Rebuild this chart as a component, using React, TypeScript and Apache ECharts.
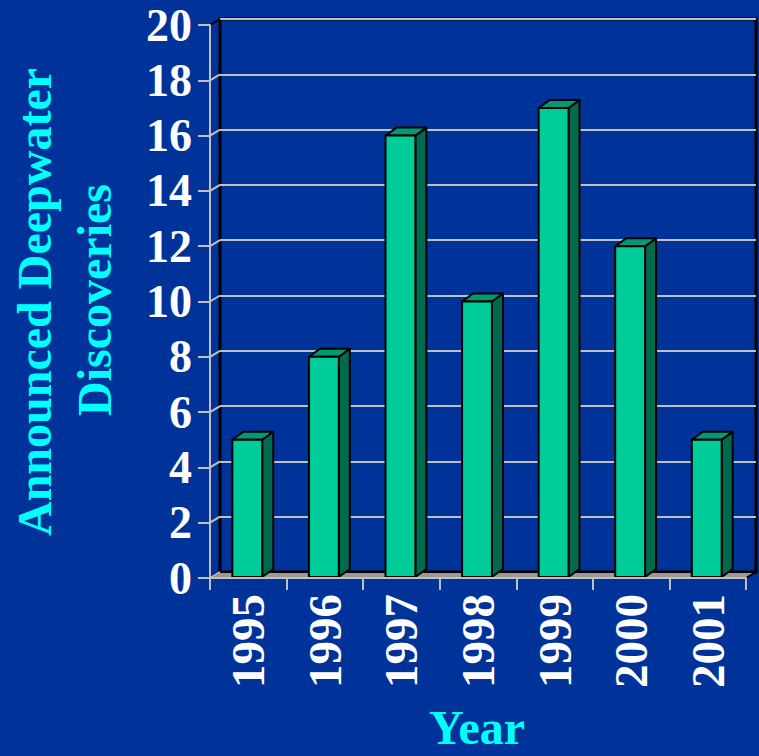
import React, { useEffect, useRef } from "react";
import * as echarts from "echarts";

const years = ["1995", "1996", "1997", "1998", "1999", "2000", "2001"];
const discoveries = [5, 8, 16, 10, 17, 12, 5];
const yTicks = [0, 2, 4, 6, 8, 10, 12, 14, 16, 18, 20];
const yTitleLines = ["Announced Deepwater", "Discoveries"];
const xTitle = "Year";

const BG = "#003399";
const CYAN = "#00FFFF";
const GRID = "#C0C0C0";
const FONT = "'Liberation Serif', 'Times New Roman', serif";
const WALL_DX = 10;
const WALL_DY = 6;
const BAR_DX = 11;
const BAR_DY = 8;

export default function App() {
  const ref = useRef<HTMLDivElement>(null);
  useEffect(() => {
    if (!ref.current) return;
    const chart = echarts.init(ref.current, undefined, { renderer: "svg" });
    const option: any = {
      animation: false,
      backgroundColor: BG,
      grid: [
        { left: 210, top: 25, width: 536, height: 553, containLabel: false },
        {
          left: 220,
          top: 19,
          width: 536,
          height: 553,
          show: true,
          borderColor: "#000",
          borderWidth: 3,
          backgroundColor: "transparent",
        },
      ],
      xAxis: [
        {
          type: "category",
          gridIndex: 0,
          data: years,
          z: 5,
          boundaryGap: true,
          axisLine: { show: true, lineStyle: { color: GRID, width: 2 } },
          axisTick: { show: true, length: 12, lineStyle: { color: GRID, width: 2 } },
          axisLabel: {
            interval: 0,
            rotate: 90,
            margin: 16,
            color: "#fff",
            fontSize: 47,
            fontWeight: "bold",
            fontFamily: FONT,
          },
        },
        { type: "category", gridIndex: 1, data: years, show: false },
      ],
      yAxis: [
        {
          type: "value",
          gridIndex: 0,
          min: 0,
          max: 20,
          interval: 2,
          z: 5,
          axisLine: { show: true, lineStyle: { color: GRID, width: 2 } },
          axisTick: { show: true, length: 12, lineStyle: { color: GRID, width: 2 } },
          splitLine: { show: false },
          axisLabel: {
            margin: 18,
            color: "#fff",
            fontSize: 46,
            fontWeight: "bold",
            fontFamily: FONT,
          },
        },
        {
          type: "value",
          gridIndex: 1,
          min: 0,
          max: 20,
          interval: 2,
          axisLine: { show: false },
          axisTick: { show: false },
          axisLabel: { show: false },
          splitLine: { show: true, lineStyle: { color: GRID, width: 2 } },
        },
      ],
      series: [
        {
          type: "custom",
          xAxisIndex: 0,
          yAxisIndex: 0,
          z: 2,
          silent: true,
          data: [[0, 0]],
          renderItem: (params: any, api: any) => {
            const cs = params.coordSys;
            const x = cs.x;
            const y = cs.y;
            const w = cs.width;
            const h = cs.height;
            const children: any[] = [];
            children.push({
              type: "polygon",
              shape: {
                points: [
                  [x, y + h],
                  [x + w, y + h],
                  [x + w + WALL_DX, y + h - WALL_DY],
                  [x + WALL_DX, y + h - WALL_DY],
                ],
              },
              style: { fill: "#999999", stroke: "#000", lineWidth: 2 },
            });
            yTicks.forEach((v) => {
              const yy = api.coord([0, v])[1];
              children.push({
                type: "line",
                shape: { x1: x, y1: yy, x2: x + WALL_DX, y2: yy - WALL_DY },
                style: { stroke: v === 20 ? "#000" : GRID, lineWidth: 2 },
              });
            });
            return { type: "group", children };
          },
        },
        {
          type: "custom",
          xAxisIndex: 0,
          yAxisIndex: 0,
          z: 3,
          data: discoveries.map((v, i) => [i, v]),
          renderItem: (params: any, api: any) => {
            const idx = api.value(0);
            const val = api.value(1);
            const top = api.coord([idx, val]);
            const base = api.coord([idx, 0]);
            const band = api.size([1, 0])[0];
            const bw = band * 0.39;
            const x0 = top[0] - bw / 2 - 1;
            const x1 = x0 + bw;
            const yt = top[1];
            const yb = base[1] - 1;
            const stroke = { stroke: "#000", lineWidth: 2, lineJoin: "round" };
            return {
              type: "group",
              children: [
                {
                  type: "polygon",
                  shape: {
                    points: [
                      [x1, yt],
                      [x1 + BAR_DX, yt - BAR_DY],
                      [x1 + BAR_DX, yb - BAR_DY],
                      [x1, yb],
                    ],
                  },
                  style: { fill: "#006A4E", ...stroke },
                },
                {
                  type: "polygon",
                  shape: {
                    points: [
                      [x0, yt],
                      [x0 + BAR_DX, yt - BAR_DY],
                      [x1 + BAR_DX, yt - BAR_DY],
                      [x1, yt],
                    ],
                  },
                  style: { fill: "#009973", ...stroke },
                },
                {
                  type: "rect",
                  shape: { x: x0, y: yt, width: bw, height: yb - yt },
                  style: { fill: "#00CC99", ...stroke },
                },
              ],
            };
          },
        },
      ],
      graphic: [
        {
          type: "text",
          x: 34,
          y: 302,
          rotation: Math.PI / 2,
          style: {
            text: yTitleLines[0],
            fill: CYAN,
            font: `bold 48px ${FONT}`,
            textAlign: "center",
            textVerticalAlign: "middle",
          },
        },
        {
          type: "text",
          x: 94,
          y: 300,
          rotation: Math.PI / 2,
          style: {
            text: yTitleLines[1],
            fill: CYAN,
            font: `bold 48px ${FONT}`,
            textAlign: "center",
            textVerticalAlign: "middle",
          },
        },
        {
          type: "text",
          x: 477,
          y: 727,
          style: {
            text: xTitle,
            fill: CYAN,
            font: `bold 48px ${FONT}`,
            textAlign: "center",
            textVerticalAlign: "middle",
          },
        },
      ],
    };
    chart.setOption(option);
    return () => chart.dispose();
  }, []);
  return (
    <div
      ref={ref}
      style={{ position: "fixed", left: 0, top: 0, width: 759, height: 756 }}
    />
  );
}
